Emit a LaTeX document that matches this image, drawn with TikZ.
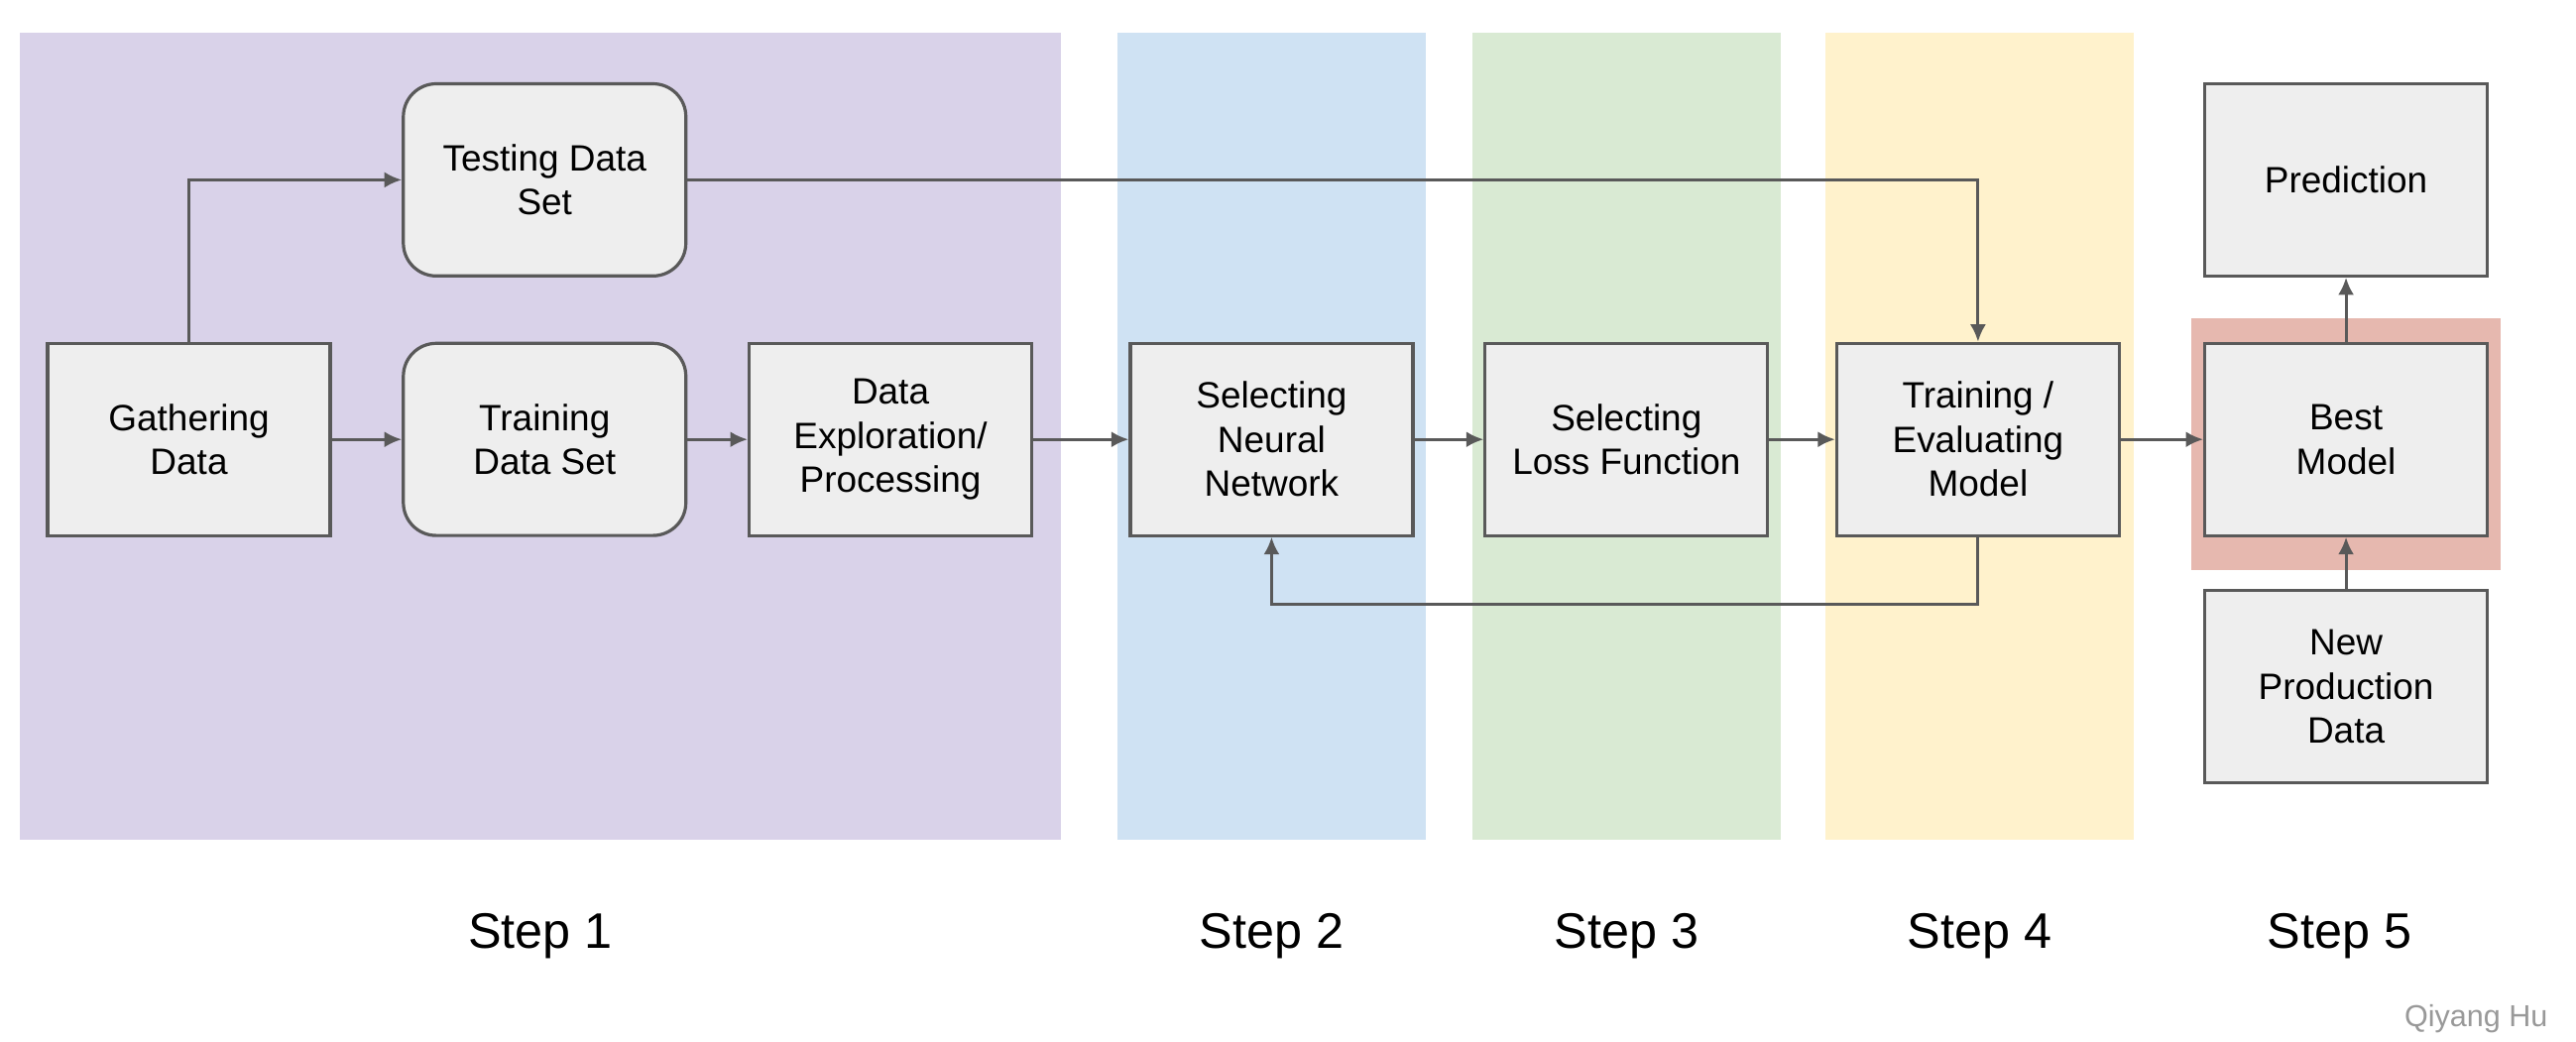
\documentclass[tikz,border=0pt]{standalone}
\usepackage{fontspec}
\setmainfont{Liberation Sans}
\usetikzlibrary{positioning,arrows.meta}

\definecolor{bandpurple}{HTML}{D9D2E9}
\definecolor{bandblue}{HTML}{CFE2F3}
\definecolor{bandgreen}{HTML}{D9EAD3}
\definecolor{bandyellow}{HTML}{FFF2CC}
\definecolor{bandred}{HTML}{E6B8AF}
\definecolor{boxfill}{HTML}{EEEEEE}
\definecolor{boxline}{HTML}{595959}
\definecolor{signgray}{HTML}{999999}

\begin{document}
\begin{tikzpicture}[x=0.02cm,y=-0.02cm]
                \tikzstyle{box}=[rectangle,draw=boxline,line width=1.1pt,fill=boxfill,minimum width=3.44cm,minimum height=2.34cm,inner sep=2pt,align=center,font=\fontsize{12.7}{15.3}\selectfont]
                \tikzstyle{roundbox}=[box,rounded corners=0.4cm]
                \tikzstyle{steplabel}=[font=\fontsize{17.3}{21}\selectfont]
                \tikzstyle{flow}=[draw=boxline,line width=1pt,-{Latex[length=6pt,width=5.5pt]}]
                \useasboundingbox (0,0) rectangle (1568,634);

                \foreach \num/\xa/\xb/\col in {1/12/646/bandpurple, 2/680/868/bandblue, 3/896/1084/bandgreen, 4/1111/1299/bandyellow}{
                    \fill[\col] (\xa,20) rectangle (\xb,511);
                    \node[steplabel] (Step-\num) at ({(\xa+\xb)/2},570) {Step \num};
                }
                \fill[bandred] (1334,194) rectangle (1522,347);
                \node[steplabel] (Step-5) at (1424,570) {Step 5};

                \node[box] (gather) at (115,267.5) {Gathering\\Data};
                \node[roundbox] (testing) at (331.5,109.5) {Testing Data\\Set};
                \node[roundbox] (training) at (331.5,267.5) {Training\\Data Set};
                \node[box] (explore) at (542,267.5) {Data\\Exploration/\\Processing};
                \node[box] (neural) at (774,267.5) {Selecting\\Neural\\Network};
                \node[box] (loss) at (990,267.5) {Selecting\\Loss Function};
                \node[box] (traineval) at (1204,267.5) {Training /\\Evaluating\\Model};
                \node[box] (best) at (1428,267.5) {Best\\Model};
                \node[box] (predict) at (1428,109.5) {Prediction};
                \node[box] (newdata) at (1428,418) {New\\Production\\Data};

                \node[anchor=east,text=signgray,font=\fontsize{10.5}{12}\selectfont] (sign) at (1557,620) {Qiyang Hu};

                \draw[flow] (gather.north) |- (testing.west);
                \foreach \from/\to in {gather/training, training/explore, explore/neural, neural/loss, loss/traineval, traineval/best}
                    \draw[flow] (\from) -- (\to);
                \draw[flow] (testing.east) -| (traineval.north);
                \draw[flow] (traineval.south) -- ++(0,41) -| (neural.south);
                \draw[flow] (best) -- (predict);
                \draw[flow] (newdata) -- (best);
\end{tikzpicture}
\end{document}
